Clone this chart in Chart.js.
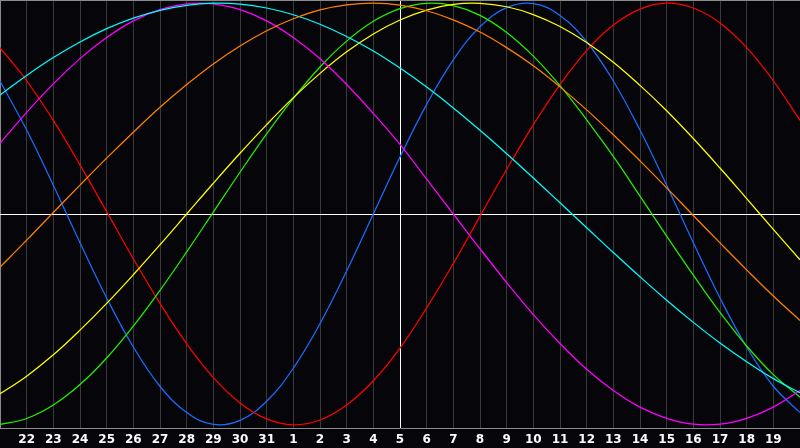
<!DOCTYPE html>
<html>
<head>
<meta charset="utf-8">
<script src="https://cdn.jsdelivr.net/npm/chart.js@4/dist/chart.umd.min.js"></script>
<style>
  html, body { margin: 0; padding: 0; background: #060509; }
  canvas { display: block; background: #060509; }
</style>
</head>
<body>
<canvas id="bioChart" width="800" height="448"></canvas>
<script>
// day labels under each gridline (first and last slot are unlabeled)
const dayLabels = ["", "22", "23", "24", "25", "26", "27", "28", "29", "30", "31",
  "1", "2", "3", "4", "5", "6", "7", "8", "9", "10", "11", "12", "13", "14",
  "15", "16", "17", "18", "19", ""];

// values read per day, -1..1
const blueVals = [0.631, 0.398, 0.136, -0.136, -0.398, -0.631, -0.817, -0.942, -0.998, -0.979,
  -0.888, -0.731, -0.520, -0.270, 0.0, 0.270, 0.520, 0.731, 0.888, 0.979,
  0.998, 0.942, 0.817, 0.631, 0.398, 0.136, -0.136, -0.398, -0.631, -0.817, -0.942];
const redVals = [0.789, 0.632, 0.444, 0.233, 0.011, -0.212, -0.424, -0.615, -0.776, -0.896,
  -0.972, -1.0, -0.977, -0.906, -0.791, -0.636, -0.445, -0.235, -0.011, 0.212,
  0.423, 0.614, 0.775, 0.896, 0.972, 1.0, 0.977, 0.906, 0.789, 0.632, 0.444];
const greenVals = [-0.998, -0.970, -0.906, -0.809, -0.683, -0.532, -0.362, -0.180, 0.009, 0.198,
  0.380, 0.548, 0.697, 0.820, 0.914, 0.974, 0.999, 0.988, 0.942, 0.861,
  0.749, 0.609, 0.447, 0.273, 0.085, -0.105, -0.290, -0.467, -0.626, -0.762, -0.869];
const yellowVals = [-0.853, -0.769, -0.668, -0.551, -0.424, -0.288, -0.146, 0.0, 0.146, 0.288,
  0.424, 0.552, 0.667, 0.769, 0.854, 0.920, 0.967, 0.994, 0.999, 0.983,
  0.946, 0.889, 0.813, 0.720, 0.610, 0.490, 0.358, 0.218, 0.073, -0.073, -0.217];
const magentaVals = [0.335, 0.482, 0.617, 0.737, 0.837, 0.916, 0.969, 0.997, 0.997, 0.969,
  0.916, 0.837, 0.736, 0.614, 0.477, 0.330, 0.165, 0.0, -0.165, -0.325,
  -0.477, -0.614, -0.736, -0.837, -0.916, -0.969, -0.997, -0.997, -0.969, -0.916, -0.837];
const cyanVals = [0.564, 0.657, 0.742, 0.816, 0.879, 0.929, 0.966, 0.990, 1.0, 0.996,
  0.977, 0.945, 0.900, 0.842, 0.773, 0.692, 0.602, 0.503, 0.397, 0.286,
  0.171, 0.053, -0.065, -0.183, -0.298, -0.409, -0.514, -0.612, -0.701, -0.781, -0.848];
const orangeVals = [-0.252, -0.124, 0.007, 0.137, 0.265, 0.388, 0.506, 0.614, 0.712, 0.797,
  0.869, 0.926, 0.968, 0.992, 1.0, 0.991, 0.964, 0.921, 0.863, 0.789,
  0.703, 0.603, 0.494, 0.376, 0.252, 0.124, -0.007, -0.137, -0.265, -0.389, -0.505];

const toPoints = (vals) => vals.map((v, i) => ({ x: i, y: v }));

const line = (vals, color) => ({
  data: toPoints(vals),
  borderColor: color,
  borderWidth: 1.25,
  pointRadius: 0,
  pointHoverRadius: 0,
  tension: 0.4,
  fill: false,
});

const ctx = document.getElementById("bioChart");
const bioChart = new Chart(ctx, {
  type: "line",
  data: {
    datasets: [
      line(orangeVals, "#ff8000"),
      line(cyanVals, "#00ffff"),
      line(magentaVals, "#ff00ff"),
      line(yellowVals, "#ffff00"),
      line(greenVals, "#22f000"),
      line(redVals, "#ff0000"),
      line(blueVals, "#1a6cff"),
    ],
  },
  options: {
    responsive: false,
    animation: false,
    devicePixelRatio: 1,
    layout: { padding: 0, autoPadding: false },
    plugins: {
      legend: { display: false },
      tooltip: { enabled: false },
    },
    scales: {
      x: {
        type: "linear",
        min: 0,
        max: 30,
        afterBuildTicks: (scale) => {
          scale.ticks = dayLabels.map((_, i) => ({ value: i }));
        },
        afterFit: (scale) => {
          scale.height = 20;
          scale.paddingLeft = 0;
          scale.paddingRight = 0;
        },
        grid: {
          drawTicks: false,
          lineWidth: 1,
          color: (c) => {
            if (c.tick.value === 15) return "#ffffff";
            if (c.tick.value === 0) return "#8a8a8a";
            return "#3a3a3a";
          },
        },
        border: { display: true, color: "#8a8a8a", width: 1 },
        ticks: {
          autoSkip: false,
          maxRotation: 0,
          padding: 5,
          color: "#ffffff",
          font: { family: "DejaVu Sans", size: 12, weight: "bold" },
          callback: (value) => dayLabels[value],
        },
      },
      y: {
        type: "linear",
        min: -1.015,
        max: 1.015,
        afterBuildTicks: (scale) => {
          scale.ticks = [{ value: 0 }, { value: 1.015 }];
        },
        afterFit: (scale) => {
          scale.width = 0;
          scale.paddingTop = 0;
          scale.paddingBottom = 0;
        },
        grid: {
          drawTicks: false,
          color: (c) => (c.tick.value === 0 ? "#ffffff" : "#8a8a8a"),
        },
        border: { display: false },
        ticks: { display: false },
      },
    },
  },
});
</script>
</body>
</html>
